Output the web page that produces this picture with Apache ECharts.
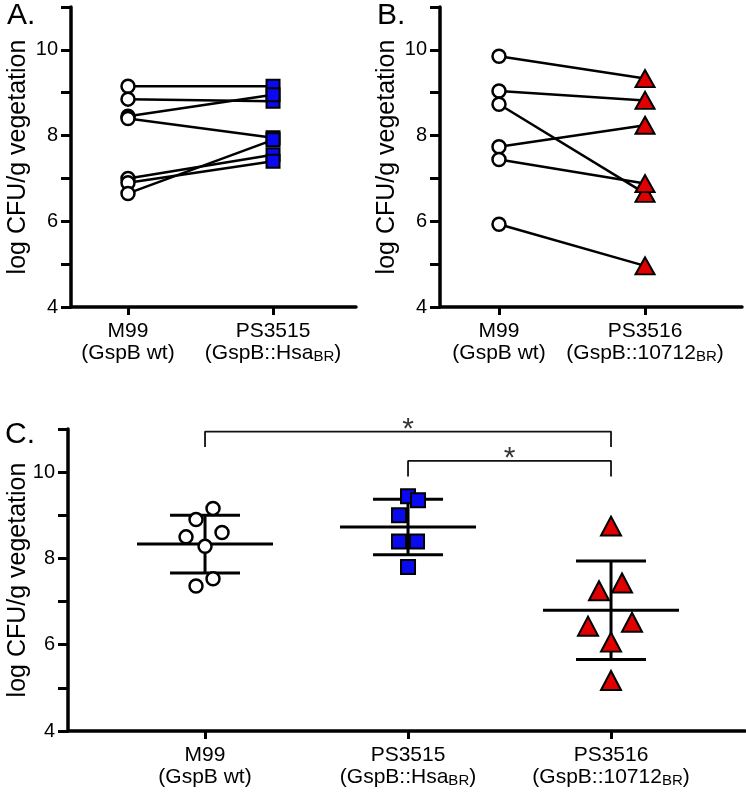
<!DOCTYPE html>
<html><head><meta charset="utf-8">
<script src="https://cdn.jsdelivr.net/npm/echarts@6/dist/echarts.min.js"></script>
<style>html,body{margin:0;padding:0;background:#fff}#c{width:746px;height:792px}</style>
</head><body><div id="c"></div>
<script>
// ---------------- data ----------------
const strains = ['M99', 'PS3515', 'PS3516'];
const genotypes = ['(GspB wt)', '(GspB::Hsa{sub|BR})', '(GspB::10712{sub|BR})'];
const yTickLabels = [4, 6, 8, 10];
const yTitle = 'log CFU/g vegetation';

// Panel A: paired values, M99 vs PS3515
const aM99    = [9.15, 8.85, 8.45, 8.40, 7.00, 6.90, 6.65];
const aPS3515 = [9.15, 8.80, 8.95, 7.95, 7.55, 7.40, 7.90];
// Panel B: paired values, M99 vs PS3516
const bM99    = [9.85, 9.04, 8.73, 7.74, 7.44, 5.93];
const bPS3516 = [9.33, 8.82, 6.65, 8.24, 6.88, 4.96];
// Panel C: group values
const cM99    = [9.16, 8.90, 8.60, 8.50, 8.28, 7.53, 7.36];
const cPS3515 = [9.44, 9.35, 9.00, 8.39, 8.39, 7.80];
const cPS3516 = [8.75, 7.43, 7.25, 6.52, 6.43, 6.06, 5.17];
// significance comparisons (group index pairs)
const sigPairs = [[0, 2], [1, 2]];
const sigLabels = ['*', '*'];

// ---------------- styles ----------------
const FONT = 'Liberation Sans, Arial, Helvetica, sans-serif';
const jitterC = [[8, -9, 17, -19, 0, 8, -9], [0, 10, -9, -9, 9, 0], [0, 11, -12, 21, -23, 0, 0]];
const sym = {
  circle: { symbol: 'circle', size: 13, color: '#fff', border: '#000', bw: 2.5 },
  square: { symbol: 'rect', size: 13, color: '#0a0af0', border: '#000', bw: 2 },
  tri:    { symbol: 'triangle', size: [19, 17], color: '#e00000', border: '#000', bw: 2 }
};
const symC = {
  circle: { symbol: 'circle', size: 13, color: '#fff', border: '#000', bw: 2.5 },
  square: { symbol: 'rect', size: 14, color: '#0a0af0', border: '#000', bw: 2 },
  tri:    { symbol: 'triangle', size: [20, 19], color: '#e00000', border: '#000', bw: 2 }
};

function xLabel(i) { return strains[i] + '\n' + genotypes[i]; }
const richLab = { sub: { fontSize: 15, fontFamily: FONT, color: '#000', verticalAlign: 'bottom', lineHeight: 15 } };

function makeX(gi, min, max, cats) {
  return {
    gridIndex: gi, type: 'value', min: min, max: max,
    axisLine: { show: true, onZero: false, lineStyle: { color: '#000', width: 3.5 } },
    axisTick: { show: true, length: 8, lineStyle: { color: '#000', width: 3 }, customValues: cats.map((c, k) => k) },
    axisLabel: { show: true, customValues: cats.map((c, k) => k), formatter: v => xLabel(cats[Math.round(v)]),
      fontFamily: FONT, fontSize: 21, color: '#000', lineHeight: 22, margin: 13, rich: richLab },
    splitLine: { show: false }
  };
}
function makeY(gi, gap) {
  return {
    gridIndex: gi, type: 'value', min: 4, max: 11, interval: 1,
    name: yTitle, nameLocation: 'middle', nameGap: gap, nameMoveOverlap: false,
    nameTextStyle: { fontFamily: FONT, fontSize: 25, color: '#000' },
    axisLine: { show: true, onZero: false, lineStyle: { color: '#000', width: 3.5 } },
    axisTick: { show: true, length: 10, lineStyle: { color: '#000', width: 3 } },
    axisLabel: { show: true, customValues: yTickLabels, fontFamily: FONT, fontSize: 20, color: '#000', margin: 13 },
    splitLine: { show: false }
  };
}
function markerStyle(s) {
  return { symbol: s.symbol, symbolSize: s.size, itemStyle: { color: s.color, borderColor: s.border, borderWidth: s.bw, opacity: 1 } };
}

const series = [];
// paired panels
function paired(gi, left, right, sl, sr) {
  left.forEach((v, i) => {
    series.push({ type: 'line', xAxisIndex: gi, yAxisIndex: gi, data: [[0, v], [1, right[i]]],
      symbol: 'none', lineStyle: { color: '#000', width: 2.5 }, z: 2, silent: true });
  });
  series.push(Object.assign({ type: 'scatter', xAxisIndex: gi, yAxisIndex: gi, z: 5,
    data: left.map(v => [0, v]) }, markerStyle(sl)));
  series.push(Object.assign({ type: 'scatter', xAxisIndex: gi, yAxisIndex: gi, z: 5,
    data: right.map(v => [1, v]) }, markerStyle(sr)));
}
paired(0, aM99, aPS3515, sym.circle, sym.square);
paired(1, bM99, bPS3516, sym.circle, sym.tri);

// panel C
const groupsC = [cM99, cPS3515, cPS3516];
const symsC = [symC.circle, symC.square, symC.tri];
function stats(a) {
  const m = a.reduce((s, v) => s + v, 0) / a.length;
  const sd = Math.sqrt(a.reduce((s, v) => s + (v - m) * (v - m), 0) / (a.length - 1));
  return [m, sd];
}
series.push({
  type: 'custom', xAxisIndex: 2, yAxisIndex: 2, z: 2, silent: true,
  data: groupsC.map((g, i) => { const st = stats(g); return [i, st[0], st[1]]; }),
  renderItem: function (params, api) {
    const x = api.value(0), m = api.value(1), sd = api.value(2);
    const c = api.coord([x, m]), hi = api.coord([x, m + sd]), lo = api.coord([x, m - sd]);
    const style = { stroke: '#000', lineWidth: 3, fill: null };
    return { type: 'group', children: [
      { type: 'line', shape: { x1: c[0] - 68, y1: c[1], x2: c[0] + 68, y2: c[1] }, style: style },
      { type: 'line', shape: { x1: hi[0] - 35, y1: hi[1], x2: hi[0] + 35, y2: hi[1] }, style: style },
      { type: 'line', shape: { x1: lo[0] - 35, y1: lo[1], x2: lo[0] + 35, y2: lo[1] }, style: style },
      { type: 'line', shape: { x1: c[0], y1: hi[1], x2: c[0], y2: lo[1] }, style: style }
    ] };
  }
});
groupsC.forEach((g, gi) => {
  const s = symsC[gi];
  series.push({ type: 'scatter', xAxisIndex: 2, yAxisIndex: 2, z: 5,
    data: g.map((v, k) => ({ value: [gi, v], symbolOffset: [jitterC[gi][k], 0] })),
    symbol: s.symbol, symbolSize: s.size,
    itemStyle: { color: s.color, borderColor: s.border, borderWidth: s.bw, opacity: 1 } });
});
// significance brackets
const bracketTop = [10.94, 10.26];
const bracketDrop = 0.36;
sigPairs.forEach((p, k) => {
  const t = bracketTop[k];
  series.push({ type: 'line', xAxisIndex: 2, yAxisIndex: 2, symbol: 'none', silent: true,
    data: [[p[0], t - bracketDrop], [p[0], t], [p[1], t], [p[1], t - bracketDrop]],
    lineStyle: { color: '#111', width: 1.8 }, z: 3 });
  series.push({ type: 'scatter', xAxisIndex: 2, yAxisIndex: 2, clip: false, silent: true,
    data: [[(p[0] + p[1]) / 2, t]], symbolSize: 1, itemStyle: { color: 'rgba(0,0,0,0)' },
    label: { show: true, formatter: sigLabels[k], position: 'inside', offset: [0, -2],
      fontFamily: FONT, fontSize: 30, color: '#000' } });
});

const option = {
  animation: false,
  backgroundColor: '#fff',
  grid: [
    { left: 71, top: 7, width: 285, height: 300, outerBoundsMode: 'none', containLabel: false },
    { left: 440, top: 7, width: 302, height: 300, outerBoundsMode: 'none', containLabel: false },
    { left: 68, top: 429, width: 677, height: 302, outerBoundsMode: 'none', containLabel: false }
  ],
  xAxis: [
    makeX(0, -0.393, 1.572, [0, 1]),
    makeX(1, -0.404, 1.664, [0, 2]),
    makeX(2, -0.675, 2.66, [0, 1, 2])
  ],
  yAxis: [makeY(0, 40), makeY(1, 40), makeY(2, 37)],
  graphic: [
    { type: 'text', left: 7, top: 1, style: { text: 'A.', font: '30px ' + FONT, fill: '#000' } },
    { type: 'text', left: 377, top: 1, style: { text: 'B.', font: '30px ' + FONT, fill: '#000' } },
    { type: 'text', left: 5, top: 420, style: { text: 'C.', font: '30px ' + FONT, fill: '#000' } }
  ],
  series: series
};
const chart = echarts.init(document.getElementById('c'), null, { renderer: 'canvas' });
chart.setOption(option);
</script>
</body></html>
